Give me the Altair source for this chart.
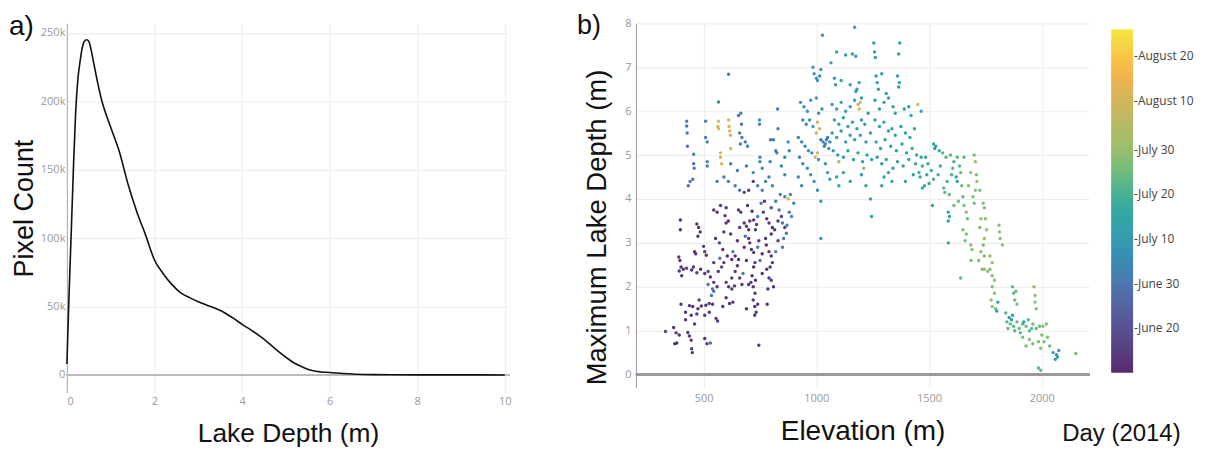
import altair as alt
import pandas as pd

# ---------------- panel a: depth histogram curve ----------------
DEPTH_M = [0, 0.05, 0.1, 0.15, 0.2, 0.25, 0.3, 0.35, 0.4, 0.45, 0.5, 0.55, 0.6, 0.7, 0.8,
           0.9, 1.0, 1.2, 1.4, 1.6, 1.8, 2.0, 2.2, 2.4, 2.6, 2.8, 3.0, 3.2, 3.4, 3.6, 3.8,
           4.0, 4.2, 4.4, 4.6, 4.8, 5.0, 5.2, 5.4, 5.6, 5.8, 6.0, 6.3, 6.6, 7.0, 8.0, 9.0, 10.0]
PIXEL_COUNT = [8000, 60000, 105000, 152000, 192000, 216000, 229000, 239000, 244000, 245000,
               244000, 238000, 230000, 214000, 200000, 190000, 181000, 163000, 139000, 119000,
               102000, 84000, 74000, 66000, 60000, 56500, 53500, 51000, 48500, 45500, 41500,
               37000, 33000, 28500, 23500, 18000, 13000, 8500, 5500, 3200, 2200, 1800, 1000,
               500, 200, 80, 30, 0]

# ---------------- panel b: (elevation m, max depth m, day offset from June 1, 2014) ----------------
LOW_WEST = [
    (331, 0.98, 15), (367, 1.07, 12), (372, 0.70, 12), (381, 0.72, 11), (397, 3.52, 11), (397, 3.30, 12), (390, 2.68, 12), (395, 2.60, 13), (400, 2.45, 11), (392, 2.36, 12),
    (403, 2.25, 14), (410, 2.40, 12), (425, 2.42, 16), (447, 2.38, 11), (455, 2.45, 12), (470, 2.32, 13), (487, 2.40, 11), (505, 2.30, 12), (520, 2.35, 14), (470, 3.43, 11),
    (478, 3.35, 12), (485, 3.25, 11), (475, 3.15, 13), (500, 2.92, 12), (505, 2.80, 14), (512, 2.72, 11), (460, 2.80, 12), (465, 2.75, 13), (400, 1.60, 11), (437, 1.57, 12),
    (452, 1.55, 12), (475, 1.50, 13), (490, 1.56, 11), (510, 1.58, 12), (525, 1.62, 14), (540, 1.60, 12), (420, 1.42, 11), (445, 1.35, 12), (470, 1.38, 13), (505, 1.35, 12),
    (525, 1.42, 11), (555, 1.28, 12), (562, 1.22, 13), (378, 0.95, 12), (392, 0.90, 11), (430, 0.96, 12), (437, 0.88, 13), (445, 0.78, 12), (505, 0.82, 11), (515, 0.70, 13),
    (447, 0.59, 12), (450, 0.50, 11), (530, 0.72, 28), (535, 1.80, 28), (540, 1.95, 30), (545, 1.90, 29), (520, 2.05, 27), (480, 1.70, 14), (460, 1.15, 12), (420, 1.25, 13),
]
LOW_MID = [
    (545, 3.75, 12), (560, 3.70, 11), (575, 3.85, 12), (600, 3.80, 13), (595, 3.62, 12), (610, 3.50, 11), (553, 3.10, 12), (570, 3.00, 14), (585, 2.85, 12), (605, 2.70, 11),
    (625, 2.62, 12), (640, 2.70, 13), (655, 2.62, 12), (650, 2.48, 11), (640, 2.35, 12), (625, 2.20, 14), (530, 2.22, 12), (545, 2.10, 13), (560, 2.00, 12), (611, 2.00, 11),
    (625, 1.95, 12), (637, 2.02, 13), (600, 1.75, 12), (615, 1.62, 11), (630, 1.65, 12), (580, 2.45, 18), (590, 2.55, 12), (565, 2.35, 11), (620, 3.20, 12), (650, 3.05, 11),
    (660, 3.35, 12), (590, 3.25, 13), (572, 2.65, 28), (630, 2.80, 30), (600, 3.45, 12), (545, 2.55, 12), (660, 2.20, 13), (670, 2.05, 12), (600, 2.10, 12), (585, 1.55, 11),
]
LOW_EAST = [
    (655, 3.75, 12), (665, 3.70, 12), (680, 3.45, 11), (690, 3.38, 13), (700, 3.30, 12), (705, 3.50, 12), (715, 3.72, 11), (722, 3.52, 12), (735, 3.42, 13), (730, 3.30, 12),
    (700, 3.10, 12), (705, 3.00, 11), (712, 2.85, 12), (722, 2.78, 14), (728, 2.55, 12), (722, 2.45, 11), (715, 2.25, 12), (730, 2.15, 13), (710, 2.10, 12), (700, 2.05, 11),
    (720, 2.00, 12), (728, 1.85, 12), (720, 1.70, 13), (727, 1.55, 11), (733, 1.42, 12), (727, 1.35, 12), (745, 0.67, 14), (690, 2.60, 12), (680, 2.90, 13), (740, 2.90, 30),
    (745, 3.05, 12), (750, 2.60, 28), (760, 2.30, 12), (690, 1.50, 11), (740, 1.60, 12), (675, 2.30, 29), (685, 3.15, 27), (740, 3.60, 30), (695, 3.85, 12), (755, 3.90, 28),
    (765, 3.70, 12), (780, 3.55, 13), (790, 3.45, 12), (805, 3.35, 12), (800, 3.20, 11), (815, 3.30, 13), (830, 3.50, 12), (845, 3.60, 14), (860, 3.35, 12), (867, 3.22, 28),
    (775, 3.10, 12), (778, 2.95, 11), (790, 2.80, 12), (800, 2.70, 13), (805, 2.55, 12), (795, 2.45, 12), (780, 2.40, 11), (790, 2.20, 12), (800, 2.15, 14), (785, 1.95, 12),
    (782, 1.60, 12), (855, 3.10, 30), (850, 2.90, 28), (830, 3.05, 12), (820, 2.80, 29), (870, 3.40, 32), (880, 3.70, 30), (890, 3.60, 32), (900, 3.90, 34), (885, 4.10, 31),
    (820, 3.95, 30), (840, 4.10, 33), (860, 4.05, 32), (875, 4.00, 70), (800, 3.80, 17), (770, 3.95, 12), (810, 2.00, 13), (760, 2.75, 12), (835, 3.75, 28), (850, 3.45, 29),
]
LOW_DEEP = [
    (425, 5.77, 32), (425, 5.66, 30), (427, 5.50, 31), (428, 5.20, 29), (456, 5.02, 30), (456, 4.80, 28), (458, 4.70, 30), (440, 4.40, 29), (452, 4.45, 30), (432, 4.30, 28),
    (509, 5.77, 31), (509, 5.40, 29), (516, 5.30, 30), (516, 4.85, 32), (516, 4.75, 29), (566, 5.77, 72), (563, 5.65, 70), (567, 5.60, 73), (611, 5.80, 71), (613, 5.65, 70),
    (616, 5.55, 72), (619, 5.45, 69), (575, 5.05, 71), (575, 4.95, 70), (580, 4.80, 72), (620, 5.15, 69), (566, 6.21, 30), (611, 6.84, 29), (655, 5.90, 30), (665, 5.95, 31),
    (668, 5.70, 30), (660, 5.50, 29), (670, 5.40, 30), (663, 5.25, 31), (685, 5.30, 30), (695, 5.20, 32), (748, 5.80, 36), (748, 5.70, 35), (750, 4.95, 33), (750, 4.85, 34),
    (828, 6.05, 31), (830, 5.60, 30), (797, 5.35, 29), (810, 5.35, 31), (820, 5.10, 30), (825, 5.05, 32), (590, 4.50, 30), (610, 4.40, 31), (640, 4.30, 29), (660, 4.20, 30),
    (680, 4.15, 12), (700, 4.20, 13), (720, 4.40, 12), (740, 4.30, 29), (760, 4.20, 30), (775, 4.40, 31), (790, 4.50, 32), (805, 4.30, 33), (620, 4.80, 31), (560, 4.40, 30),
    (650, 4.65, 30), (690, 4.75, 31), (720, 4.60, 32), (760, 4.70, 33), (795, 4.85, 34), (845, 4.75, 35), (860, 4.95, 34), (880, 5.10, 33), (875, 5.30, 36), (860, 4.55, 34),
]
MID_WEST = [
    (985, 7.00, 38), (990, 6.85, 37), (1000, 6.75, 38), (1015, 6.80, 36), (1020, 6.95, 37), (1005, 6.70, 38), (1027, 7.73, 36), (1065, 7.10, 38), (930, 6.20, 35), (945, 6.10, 36),
    (960, 6.00, 37), (975, 6.25, 36), (1000, 6.30, 38), (1010, 5.95, 37), (1025, 6.05, 36), (940, 5.80, 35), (955, 5.70, 36), (970, 5.80, 37), (985, 5.65, 38), (1000, 5.50, 70),
    (1005, 5.75, 71), (1015, 5.60, 69), (1020, 5.35, 30), (1030, 5.30, 32), (1040, 5.25, 31), (1045, 5.35, 33), (1050, 5.40, 32), (1035, 5.20, 31), (1060, 5.30, 33), (1055, 5.15, 35),
    (920, 5.40, 33), (935, 5.30, 34), (950, 5.20, 35), (965, 5.10, 36), (980, 5.05, 34), (995, 4.95, 70), (1005, 5.05, 68), (1010, 4.90, 36), (925, 4.95, 33), (940, 4.80, 34),
    (960, 4.70, 35), (975, 4.55, 36), (990, 4.40, 35), (1005, 4.20, 36), (920, 4.50, 33), (935, 4.30, 34), (1020, 3.95, 37), (1020, 3.10, 36), (1040, 4.80, 37), (1050, 4.60, 38),
]
MID_CENTRE = [
    (1090, 7.35, 38), (1130, 7.28, 39), (1160, 7.30, 38), (1175, 7.25, 37), (1170, 7.91, 38), (1080, 6.75, 39), (1085, 6.60, 38), (1110, 6.70, 40), (1150, 6.60, 39), (1180, 6.50, 38),
    (1190, 6.65, 40), (1175, 6.45, 39), (1200, 6.30, 41), (1070, 6.15, 39), (1090, 6.05, 40), (1110, 6.20, 38), (1130, 6.00, 39), (1150, 6.10, 41), (1170, 6.25, 39), (1185, 6.15, 70),
    (1190, 6.05, 71), (1195, 6.20, 69), (1080, 5.80, 39), (1100, 5.70, 40), (1120, 5.85, 41), (1140, 5.65, 39), (1160, 5.75, 40), (1180, 5.60, 42), (1200, 5.80, 41), (1215, 5.70, 40),
    (1070, 5.50, 38), (1090, 5.40, 39), (1110, 5.55, 40), (1130, 5.30, 41), (1150, 5.45, 39), (1170, 5.35, 40), (1195, 5.45, 41), (1220, 5.30, 42), (1240, 5.50, 40), (1230, 5.95, 41),
    (1075, 5.10, 39), (1095, 5.00, 40), (1120, 4.95, 41), (1140, 5.10, 40), (1165, 4.90, 42), (1185, 5.05, 41), (1205, 4.85, 40), (1225, 5.00, 43), (1245, 4.90, 41), (1120, 4.60, 44),
    (1090, 4.50, 42), (1150, 4.40, 43), (1200, 4.55, 42), (1220, 4.30, 41), (1100, 4.30, 44), (1240, 4.00, 42), (1245, 3.60, 44), (1210, 4.70, 58), (1100, 4.85, 60), (1060, 4.45, 41),
]
MID_EAST = [
    (1255, 7.55, 40), (1258, 7.35, 41), (1262, 7.22, 40), (1290, 6.85, 41), (1265, 6.80, 42), (1270, 6.65, 40), (1275, 6.50, 41), (1370, 7.55, 42), (1365, 7.30, 41), (1360, 6.80, 40),
    (1368, 6.65, 42), (1365, 6.55, 41), (1310, 6.40, 42), (1300, 6.20, 41), (1320, 6.30, 40), (1340, 6.10, 42), (1260, 6.25, 41), (1280, 6.05, 42), (1350, 5.95, 43), (1390, 6.05, 42),
    (1410, 6.10, 43), (1420, 5.90, 44), (1260, 5.80, 41), (1280, 5.65, 42), (1300, 5.75, 40), (1320, 5.55, 41), (1335, 5.60, 42), (1350, 5.45, 43), (1375, 5.65, 42), (1395, 5.50, 43),
    (1415, 5.40, 44), (1435, 5.60, 43), (1265, 5.30, 42), (1285, 5.15, 41), (1305, 5.35, 42), (1330, 5.20, 43), (1355, 5.10, 42), (1380, 5.25, 44), (1400, 5.05, 43), (1425, 5.15, 45),
    (1270, 4.95, 41), (1290, 4.80, 42), (1310, 4.90, 43), (1340, 4.70, 42), (1360, 4.85, 44), (1385, 4.75, 43), (1300, 4.50, 42), (1320, 4.60, 41), (1335, 4.40, 43), (1290, 4.30, 42),
    (1445, 5.00, 46), (1450, 6.15, 70), (1465, 6.00, 45), (1430, 4.55, 44), (1410, 4.90, 45), (1440, 4.80, 46), (1455, 4.60, 47), (1465, 4.95, 45), (1470, 4.75, 48), (1395, 4.40, 44),
]
HIGH_UPPER = [
    (1520, 5.25, 44), (1530, 5.20, 45), (1525, 5.15, 43), (1545, 5.10, 47), (1485, 4.95, 45), (1495, 4.80, 46), (1510, 4.65, 47), (1490, 4.55, 45), (1520, 4.45, 48), (1480, 4.30, 46),
    (1560, 5.05, 50), (1575, 4.95, 51), (1595, 5.00, 52), (1610, 4.85, 50), (1625, 4.95, 53), (1635, 4.75, 51), (1605, 4.70, 52), (1600, 4.55, 49), (1580, 4.40, 50), (1565, 4.25, 52),
    (1570, 4.15, 51), (1590, 4.10, 53), (1620, 4.50, 43), (1625, 4.40, 42), (1585, 3.70, 42), (1590, 3.60, 41), (1585, 3.50, 43), (1585, 3.00, 44), (1550, 4.75, 48), (1540, 4.55, 49),
    (1500, 4.35, 47), (1460, 4.50, 46), (1470, 4.25, 47), (1515, 3.85, 45), (1640, 4.60, 53), (1645, 4.30, 54), (1650, 4.05, 52), (1610, 3.85, 53), (1630, 3.95, 55), (1655, 4.95, 53),
]
HIGH_SLOPE = [
    (1700, 5.00, 56), (1705, 4.85, 57), (1710, 4.55, 56), (1712, 4.40, 58), (1705, 4.20, 57), (1695, 4.05, 56), (1700, 3.90, 55), (1655, 3.85, 56), (1665, 3.70, 57), (1670, 3.55, 55),
    (1650, 3.30, 56), (1665, 3.20, 57), (1660, 3.05, 55), (1685, 2.95, 56), (1690, 2.85, 58), (1740, 3.90, 57), (1745, 3.80, 56), (1750, 3.55, 58), (1730, 3.55, 57), (1725, 3.35, 56),
    (1745, 3.10, 57), (1740, 2.95, 55), (1730, 2.80, 56), (1745, 2.70, 57), (1810, 3.40, 57), (1812, 3.25, 58), (1815, 3.10, 56), (1825, 2.95, 57), (1770, 2.70, 58), (1780, 2.55, 57),
    (1686, 2.60, 55), (1735, 2.40, 56), (1745, 2.40, 58), (1760, 2.35, 57), (1770, 2.40, 56), (1780, 2.25, 57), (1790, 2.15, 58), (1780, 2.00, 56), (1790, 1.85, 57), (1775, 1.70, 58),
    (1780, 1.55, 57), (1795, 1.50, 56), (1800, 1.45, 44), (1805, 1.65, 43), (1640, 2.20, 52), (1720, 2.60, 55), (1755, 3.30, 58), (1675, 4.30, 56), (1685, 4.60, 57), (1725, 4.20, 55),
]
HIGH_SHALLOW = [
    (1870, 2.00, 53), (1875, 1.85, 52), (1885, 1.90, 54), (1880, 1.70, 53), (1890, 1.60, 55), (1965, 2.00, 58), (1970, 1.80, 57), (1970, 1.65, 58), (1975, 1.50, 57), (1855, 1.30, 42),
    (1865, 1.25, 41), (1870, 1.35, 43), (1845, 1.20, 52), (1860, 1.15, 53), (1875, 1.10, 52), (1890, 1.20, 54), (1900, 1.05, 53), (1915, 1.15, 52), (1930, 1.10, 54), (1945, 1.00, 53),
    (1960, 1.15, 55), (1975, 1.05, 53), (1990, 1.10, 54), (1880, 1.00, 51), (1905, 0.95, 52), (1920, 1.20, 43), (1940, 1.25, 53), (1955, 1.05, 52), (2005, 1.10, 56), (2020, 1.15, 55),
    (1915, 0.85, 55), (1945, 0.80, 56), (1960, 0.70, 55), (1985, 0.75, 56), (1995, 0.60, 57), (2010, 0.75, 55), (2025, 0.85, 56), (2035, 0.65, 54), (2050, 0.50, 40), (2065, 0.45, 38),
    (2070, 0.40, 39), (2075, 0.55, 40), (2060, 0.35, 41), (2151, 0.48, 55), (1985, 0.15, 52), (1995, 0.10, 53), (2000, 0.90, 55), (1930, 0.65, 56), (1840, 1.40, 52), (1850, 1.05, 53),
]

# colour bar: day offsets from June 1 (June 10 .. August 26) and labelled days
DAY_RANGE = [9, 86]
LEGEND_DAYS = [19, 29, 39, 49, 59, 70, 80]   # June 20, June 30, July 10, July 20, July 30, Aug 10, Aug 20
COLOR_STOPS = ["#45135c", "#463c84", "#4063a6", "#2b8ea8", "#2ba38e", "#7fba5f", "#bbae55", "#f6a93a", "#f2e52e"]

FONT = "Open Sans"
TFONT = "Liberation Sans"

# ---------------- data frames ----------------
df_a = pd.DataFrame({"depth": DEPTH_M, "count": PIXEL_COUNT})
points = LOW_WEST + LOW_MID + LOW_EAST + LOW_DEEP + MID_WEST + MID_CENTRE + MID_EAST + HIGH_UPPER + HIGH_SLOPE + HIGH_SHALLOW
df_b = pd.DataFrame(points, columns=["elev", "maxdepth", "day"])

lab_a = pd.DataFrame({"t": ["a)"]})
lab_b = pd.DataFrame({"t": ["b)"]})
lab_day = pd.DataFrame({"t": ["Day (2014)"]})

# ---------------- panel a ----------------
WA, HA = 443, 370
line_a = alt.Chart(df_a).mark_line(color="#111", strokeWidth=1.6, interpolate="monotone").encode(
    x=alt.X("depth:Q",
            scale=alt.Scale(domain=[0, 10.1], nice=False, zero=False),
            axis=alt.Axis(values=[0, 2, 4, 6, 8, 10], title="Lake Depth (m)", domain=False, ticks=False,
                          grid=True, gridColor="#ececec", labelColor="#999", labelFontSize=11, labelFont=FONT,
                          labelPadding=3, titleFontSize=26.4, titleFont=TFONT, titleFontWeight="normal",
                          titleColor="#111", titlePadding=14)),
    y=alt.Y("count:Q",
            scale=alt.Scale(domain=[-13000, 257000], nice=False, zero=False),
            axis=alt.Axis(values=[0, 50000, 100000, 150000, 200000, 250000], title="Pixel Count",
                          labelExpr="datum.value == 0 ? '0' : format(datum.value, '~s')",
                          domain=True, domainColor="#aaa", domainWidth=1, ticks=False, grid=True,
                          gridColor="#ececec", labelColor="#999", labelFontSize=11, labelFont=FONT,
                          labelPadding=2, titleFontSize=27, titleFont=TFONT, titleFontWeight="normal",
                          titleColor="#111", titleX=-28)),
)
zero_a = alt.Chart(df_a).mark_rule(color="#bbb", strokeWidth=1.5).encode(y=alt.datum(0))
text_a = alt.Chart(lab_a).mark_text(align="left", baseline="top", fontSize=28, font=TFONT, color="#111").encode(
    text="t:N", x=alt.value(-58), y=alt.value(-10))
panel_a = alt.layer(zero_a, line_a, text_a).properties(width=WA, height=HA)

# ---------------- panel b ----------------
WB, HB = 454, 365
pts = alt.Chart(df_b).mark_circle(size=12, opacity=0.9).encode(
    x=alt.X("elev:Q",
            scale=alt.Scale(domain=[200, 2210], nice=False, zero=False),
            axis=alt.Axis(values=[500, 1000, 1500, 2000], format="d", title="Elevation (m)", domain=False,
                          ticks=False, grid=True, gridColor="#ececec", labelColor="#999", labelFontSize=11,
                          labelFont=FONT, labelPadding=5, titleFontSize=28, titleFont=TFONT,
                          titleFontWeight="normal", titleColor="#111", titlePadding=14)),
    y=alt.Y("maxdepth:Q",
            scale=alt.Scale(domain=[-0.3, 8], nice=False, zero=False),
            axis=alt.Axis(values=[0, 1, 2, 3, 4, 5, 6, 7, 8], title="Maximum Lake Depth (m)", domain=True,
                          domainColor="#999", domainWidth=1, ticks=False, grid=True, gridColor="#ececec",
                          labelColor="#999", labelFontSize=11, labelFont=FONT, labelPadding=5,
                          titleFontSize=27.5, titleFont=TFONT, titleFontWeight="normal", titleColor="#111",
                          titleX=-24, titleY=204)),
    color=alt.Color("day:Q",
                    scale=alt.Scale(domain=DAY_RANGE, range=COLOR_STOPS, nice=False, zero=False),
                    title=None,
                    legend=alt.Legend(orient="none", legendX=476, legendY=6, direction="vertical",
                                      gradientLength=344, gradientThickness=22, gradientStrokeWidth=0,
                                      values=LEGEND_DAYS,
                                      labelExpr="'-' + timeFormat(datetime(2014, 5, 1 + datum.value), '%B %-d')",
                                      labelFontSize=12, labelFont=FONT, labelColor="#444", labelOffset=1)),
)
zero_b = alt.Chart(df_b).mark_rule(color="#999", strokeWidth=2).encode(y=alt.datum(0))
text_b = alt.Chart(lab_b).mark_text(align="left", baseline="top", fontSize=27, font=TFONT, color="#111").encode(
    text="t:N", x=alt.value(-59), y=alt.value(-10))
text_day = alt.Chart(lab_day).mark_text(align="left", baseline="middle", fontSize=24, font=TFONT, color="#111").encode(
    text="t:N", x=alt.value(427), y=alt.value(411))
panel_b = alt.layer(zero_b, pts, text_b, text_day).properties(width=WB, height=HB)

chart = alt.hconcat(panel_a, panel_b, spacing=66).resolve_legend(color="independent").properties(
    padding={"left": 1, "top": 4, "right": 4, "bottom": 4}, background="white"
).configure_view(strokeWidth=0)

chart.save("out.html", embed_options={"renderer": "svg", "actions": False})
